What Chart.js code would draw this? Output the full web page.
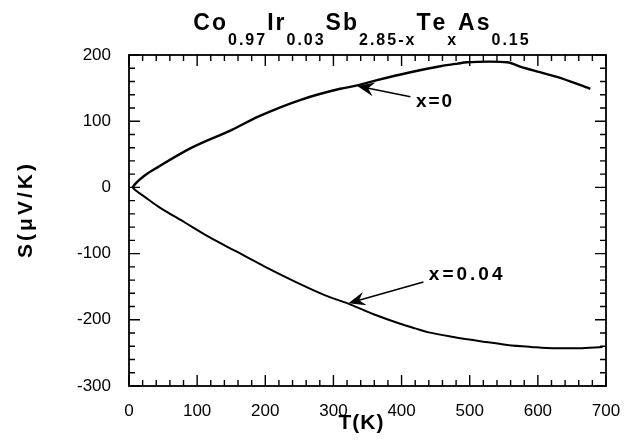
<!DOCTYPE html>
<html>
<head>
<meta charset="utf-8">
<script src="https://cdn.jsdelivr.net/npm/chart.js@4/dist/chart.umd.min.js"></script>
<style>
  html, body { margin: 0; padding: 0; background: #fff; }
</style>
</head>
<body>
<canvas id="mycanvas" width="636" height="444"></canvas>
<script>
// Seebeck coefficient vs temperature
var tempX0 = [5, 10, 16, 23, 43, 92, 151, 192, 251, 310, 335, 364, 413, 457, 482, 496, 530, 555, 575, 603, 628, 677];
var seebeckX0 = [0, 6, 12, 18, 31, 60, 87, 108, 132, 149, 154, 162, 174, 183, 187, 189, 190, 189, 182, 174, 167, 149];

var tempX004 = [5, 9, 20, 43, 82, 116, 156, 200, 239, 288, 325, 360, 398, 420, 440, 476, 520, 555, 590, 623, 660, 695];
var seebeckX004 = [0, -4, -12, -29, -53, -74, -96, -120, -140, -163, -177, -192, -206, -213, -219, -226, -233, -238, -241, -243, -243, -241];

var xTicks = [0, 100, 200, 300, 400, 500, 600, 700];
var yTicks = [-300, -200, -100, 0, 100, 200];

var titleParts = [['Co', 0], ['0.97', 1], ['Ir', 0], ['0.03', 1], ['Sb', 0], ['2.85-x', 1], ['Te', 0], ['x', 1], ['As', 0], ['0.15', 1]];

// arrow labels: text, tip (T,S), tail (T,S), text anchor (T,S)
var arrowLabels = ['x=0', 'x=0.04'];
var arrowTip = [[335, 153], [322, -175]];
var arrowTail = [[413, 137], [432, -143]];
var arrowText = [[421, 130], [440, -132]];

var FONT = '"Liberation Sans", Arial, Helvetica, sans-serif';

function toPoints(xs, ys) {
    var pts = [];
    for (var i = 0; i < xs.length; i++) pts.push({x: xs[i], y: ys[i]});
    return pts;
}

// draws text one char at a time with extra spacing, returns width
function spacedText(ctx, text, x, y, gap, measureOnly) {
    var w = 0;
    for (var i = 0; i < text.length; i++) {
        var c = text[i];
        if (!measureOnly) ctx.fillText(c, x + w, y);
        w += ctx.measureText(c).width + gap;
    }
    return w - gap;
}

var decorPlugin = {
    id: 'decor',
    afterDatasetsDraw: function (chart) {
        var ctx = chart.ctx;
        var xs = chart.scales.x, ys = chart.scales.y;
        var a = chart.chartArea;
        ctx.save();
        ctx.strokeStyle = '#000';
        ctx.fillStyle = '#000';

        // frame
        ctx.lineWidth = 1.8;
        ctx.strokeRect(a.left, a.top, a.right - a.left, a.bottom - a.top);

        // inward ticks on all four sides
        ctx.lineWidth = 1.4;
        ctx.beginPath();
        for (var t = 0; t <= 700; t += 20) {
            var px = xs.getPixelForValue(t);
            var len = (t % 100 === 0) ? 11 : 6;
            ctx.moveTo(px, a.bottom); ctx.lineTo(px, a.bottom - len);
            ctx.moveTo(px, a.top); ctx.lineTo(px, a.top + len);
        }
        for (var s = -300; s <= 200; s += 20) {
            var py = ys.getPixelForValue(s);
            var l2 = (s % 100 === 0) ? 11 : 6;
            ctx.moveTo(a.left, py); ctx.lineTo(a.left + l2, py);
            ctx.moveTo(a.right, py); ctx.lineTo(a.right - l2, py);
        }
        ctx.stroke();

        // arrows with labels
        for (var k = 0; k < arrowLabels.length; k++) {
            var tx = xs.getPixelForValue(arrowTip[k][0]), ty = ys.getPixelForValue(arrowTip[k][1]);
            var bx = xs.getPixelForValue(arrowTail[k][0]), by = ys.getPixelForValue(arrowTail[k][1]);
            var ang = Math.atan2(ty - by, tx - bx);
            var cs = Math.cos(ang), sn = Math.sin(ang);
            var hl = 17, hw = 7;
            ctx.lineWidth = 1.6;
            ctx.beginPath();
            ctx.moveTo(bx, by);
            ctx.lineTo(tx - cs * 10, ty - sn * 10);
            ctx.stroke();
            ctx.beginPath();
            ctx.moveTo(tx, ty);
            ctx.lineTo(tx - hl * cs + hw * sn, ty - hl * sn - hw * cs);
            ctx.lineTo(tx - 11 * cs, ty - 11 * sn);
            ctx.lineTo(tx - hl * cs - hw * sn, ty - hl * sn + hw * cs);
            ctx.closePath();
            ctx.fill();

            ctx.font = 'bold 19px ' + FONT;
            ctx.textBaseline = 'middle';
            ctx.textAlign = 'left';
            spacedText(ctx, arrowLabels[k], xs.getPixelForValue(arrowText[k][0]), ys.getPixelForValue(arrowText[k][1]), k === 0 ? 2 : 3);
        }

        // title with subscripts
        ctx.textAlign = 'left';
        ctx.textBaseline = 'alphabetic';
        var mainFont = 'bold 23px ' + FONT, subFont = 'bold 16px ' + FONT;
        var gap = 2;
        var total = 0, widths = [];
        for (var i = 0; i < titleParts.length; i++) {
            ctx.font = titleParts[i][1] ? subFont : mainFont;
            var w = spacedText(ctx, titleParts[i][0], 0, 0, gap, true) + gap;
            widths.push(w);
            total += w;
        }
        var cx = 362 - total / 2;
        for (var j = 0; j < titleParts.length; j++) {
            ctx.font = titleParts[j][1] ? subFont : mainFont;
            spacedText(ctx, titleParts[j][0], cx, titleParts[j][1] ? 45 : 30, gap);
            cx += widths[j];
        }

        // axis titles
        ctx.font = 'bold 21px ' + FONT;
        ctx.textBaseline = 'middle';
        var wx = spacedText(ctx, 'T(K)', 0, 0, 1, true);
        spacedText(ctx, 'T(K)', 361 - wx / 2, 423, 1);

        ctx.translate(26, 211);
        ctx.rotate(-Math.PI / 2);
        var wy = spacedText(ctx, 'S(\u03BCV/K)', 0, 0, 3, true);
        spacedText(ctx, 'S(\u03BCV/K)', -wy / 2, 0, 3);
        ctx.restore();
    }
};

var chartdata = {
    datasets: [
        {
            label: 'x=0',
            data: toPoints(tempX0, seebeckX0),
            borderColor: '#000',
            borderWidth: 2.4,
            pointRadius: 0,
            cubicInterpolationMode: 'monotone',
            showLine: true
        },
        {
            label: 'x=0.04',
            data: toPoints(tempX004, seebeckX004),
            borderColor: '#000',
            borderWidth: 2,
            pointRadius: 0,
            cubicInterpolationMode: 'monotone',
            showLine: true
        }
    ]
};

var ctx = document.getElementById('mycanvas');
var mycanvas = new Chart(ctx, {
    type: 'scatter',
    data: chartdata,
    plugins: [decorPlugin],
    options: {
        responsive: false,
        animation: false,
        layout: { padding: { left: 0, top: 55, right: 30, bottom: 0 } },
        plugins: { legend: { display: false }, tooltip: { enabled: false }, title: { display: false } },
        scales: {
            x: {
                type: 'linear',
                min: 0, max: 700,
                afterFit: function (scale) { scale.height = 58; },
                afterBuildTicks: function (scale) { scale.ticks = xTicks.map(function (v) { return {value: v}; }); },
                grid: { display: false, drawTicks: false },
                border: { display: false },
                ticks: { color: '#000', padding: 15, maxRotation: 0, font: { family: FONT, size: 17 } }
            },
            y: {
                type: 'linear',
                min: -300, max: 200,
                afterFit: function (scale) { scale.width = 129; },
                afterBuildTicks: function (scale) { scale.ticks = yTicks.map(function (v) { return {value: v}; }); },
                grid: { display: false, drawTicks: false },
                border: { display: false },
                ticks: { color: '#000', padding: 18, font: { family: FONT, size: 17 } }
            }
        }
    }
});
</script>
</body>
</html>
